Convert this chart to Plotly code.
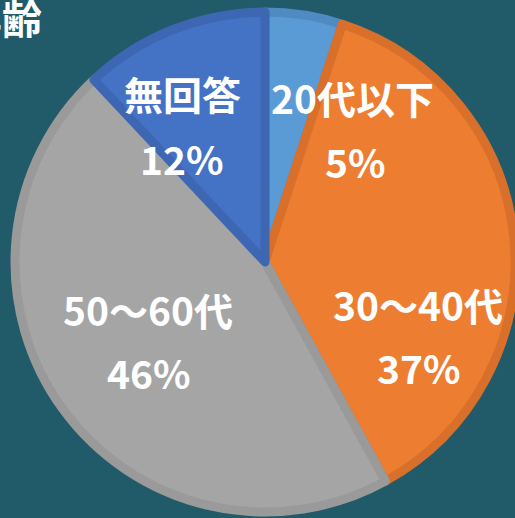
import plotly.graph_objects as go

categories = ["20代以下", "30〜40代", "50〜60代", "無回答"]
values = [5, 37, 46, 12]
fill_colors = ["#5B9BD5", "#ED7D31", "#A5A5A5", "#4472C4"]
edge_colors = ["#4F8AC2", "#D8702B", "#9A9A9A", "#3D66B3"]
title_text = "年齢"

# label centres in pixels (name line, percent line)
W, H = 515, 518
name_pos = [(352, 97), (418, 304), (148, 309), (182, 93)]
pct_pos = [(355, 161), (419, 367), (149, 372), (182, 158)]

total = sum(values)

fig = go.Figure()
cx, cy, r = 265, 262, 250
fig.add_trace(go.Pie(
    labels=categories,
    values=values,
    sort=False,
    direction="clockwise",
    rotation=0,
    textinfo="none",
    hoverinfo="label+percent",
    showlegend=False,
    marker=dict(colors=fill_colors, line=dict(color=edge_colors, width=9)),
    domain=dict(x=[(cx - r) / W, (cx + r) / W], y=[1 - (cy + r) / H, 1 - (cy - r) / H]),
))

font = dict(family="Noto Sans CJK JP", size=39, color="white")
ann = []
for cat, v, (nx, ny), (px, py) in zip(categories, values, name_pos, pct_pos):
    ann.append(dict(text="<b>%s</b>" % cat, x=nx / W, y=1 - ny / H, xref="paper", yref="paper",
                    xanchor="center", yanchor="middle", showarrow=False, font=font))
    ann.append(dict(text="<b>%d%%</b>" % round(100 * v / total), x=px / W, y=1 - py / H,
                    xref="paper", yref="paper", xanchor="center", yanchor="middle",
                    showarrow=False, font=font))
ann.append(dict(text="<b>%s</b>" % title_text, x=44 / W, y=1 - 17 / H, xref="paper", yref="paper",
                xanchor="right", yanchor="middle", showarrow=False,
                font=dict(family="Noto Sans CJK JP", size=40, color="white")))

fig.update_layout(
    width=W, height=H,
    margin=dict(l=0, r=0, t=0, b=0),
    paper_bgcolor="#215A68",
    plot_bgcolor="#215A68",
    annotations=ann,
)

fig.write_html("out.html")
